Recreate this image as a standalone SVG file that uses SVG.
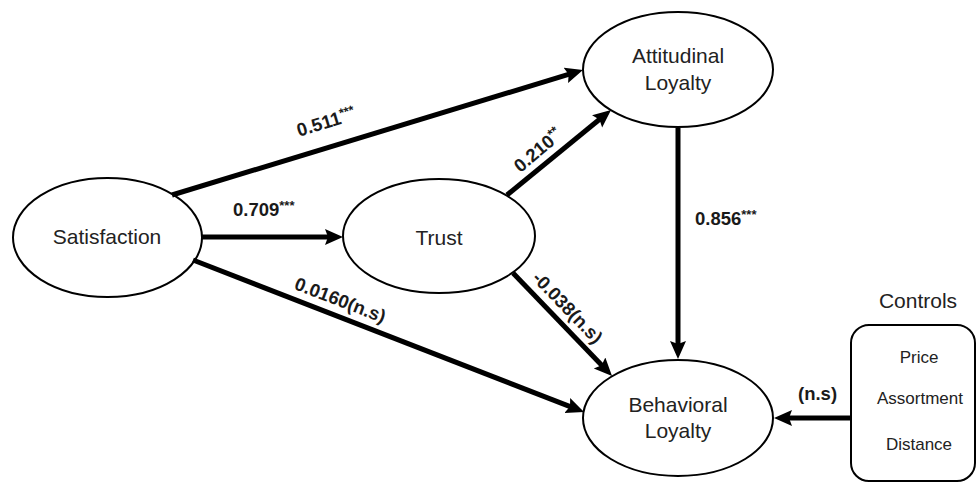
<svg xmlns="http://www.w3.org/2000/svg" width="977" height="483" viewBox="0 0 977 483">
<defs>
<style>
.node{fill:#fff;stroke:#000;stroke-width:2}
.nl{font-family:"Liberation Sans",Arial,sans-serif;font-size:21px;fill:#222;text-anchor:middle}
.cl{font-family:"Liberation Sans",Arial,sans-serif;font-size:17px;fill:#222;text-anchor:middle}
.conn{stroke:#000;stroke-width:5;fill:none;marker-end:url(#ah)}
.lb{font-family:"Liberation Sans",Arial,sans-serif;font-size:18.5px;font-weight:bold;fill:#1a1a1a}
.st{font-size:13px}
</style>
<marker id="ah" markerUnits="userSpaceOnUse" markerWidth="20" markerHeight="18" refX="8" refY="8" orient="auto" viewBox="0 0 20 18">
<path d="M0,0 L18,8 L0,16 L3,8 z" fill="#000"/>
</marker>
</defs>
<rect width="977" height="483" fill="#fff"/>
<g id="satisfaction">
<ellipse class="node" cx="107.5" cy="237.5" rx="94.5" ry="59.5"/>
<text class="nl" x="107" y="244">Satisfaction</text>
</g>
<g id="trust">
<ellipse class="node" cx="439" cy="236" rx="96" ry="57"/>
<text class="nl" x="439" y="245">Trust</text>
</g>
<g id="attitudinal">
<ellipse class="node" cx="678" cy="69.5" rx="95" ry="57.5"/>
<text class="nl" x="678" y="63">Attitudinal</text>
<text class="nl" x="678" y="90">Loyalty</text>
</g>
<g id="behavioral">
<ellipse class="node" cx="678" cy="418" rx="95" ry="58"/>
<text class="nl" x="678" y="412">Behavioral</text>
<text class="nl" x="678" y="438">Loyalty</text>
</g>
<g id="controls">
<text class="nl" x="918" y="308">Controls</text>
<rect class="node" x="851" y="325" width="124" height="156" rx="18"/>
<text class="cl" x="919" y="363">Price</text>
<text class="cl" x="920" y="404">Assortment</text>
<text class="cl" x="919" y="450">Distance</text>
</g>
<g id="connectors">
<path class="conn" d="M172,195 L573.4,72.9"/>
<path class="conn" d="M202,237 L333,237"/>
<path class="conn" d="M193,260 L574.7,408.4"/>
<path class="conn" d="M507,195 L603.3,116.3"/>
<path class="conn" d="M513,273 L605.1,368.8"/>
<path class="conn" d="M678,128 L678,349"/>
<path class="conn" d="M850,418 L784,418"/>
<text class="lb" x="328" y="128" text-anchor="middle" transform="rotate(-17 328 128)">0.511<tspan class="st" dy="-6">***</tspan></text>
<text class="lb" x="233" y="216">0.709<tspan class="st" dy="-6">***</tspan></text>
<text class="lb" x="542" y="155" text-anchor="middle" transform="rotate(-40 542 155)">0.210<tspan class="st" dy="-6">**</tspan></text>
<text class="lb" x="338" y="306" text-anchor="middle" transform="rotate(21 338 306)">0.0160(n.s)</text>
<text class="lb" x="563" y="312" text-anchor="middle" transform="rotate(46 563 312)">-0.038(n.s)</text>
<text class="lb" x="695" y="225">0.856<tspan class="st" dy="-6">***</tspan></text>
<text class="lb" x="798" y="400">(n.s)</text>
</g>
</svg>
